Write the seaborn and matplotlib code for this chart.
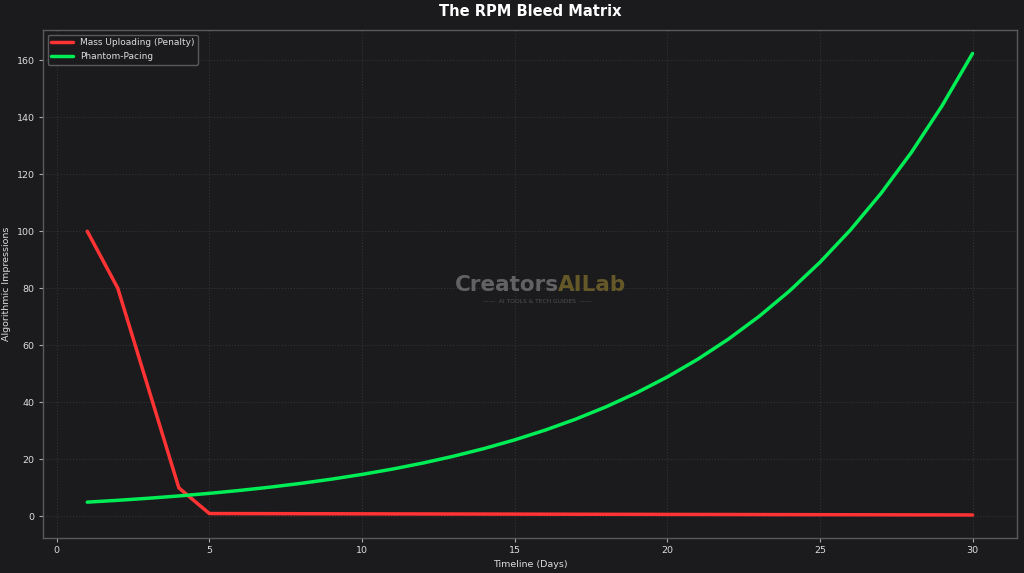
import numpy as np
import pandas as pd
import seaborn as sns
import matplotlib
matplotlib.use("Agg")
import matplotlib.pyplot as plt

days = list(range(1, 31))
mass_uploading = [100, 80, 45, 10, 1.0, 0.98, 0.96, 0.94, 0.92, 0.90, 0.88, 0.86, 0.84, 0.82, 0.80,
                  0.78, 0.76, 0.74, 0.72, 0.70, 0.68, 0.66, 0.64, 0.62, 0.60, 0.58, 0.56, 0.54, 0.52, 0.50]
phantom_pacing = [5.0, 5.64, 6.36, 7.17, 8.08, 9.11, 10.27, 11.58, 13.06, 14.72, 16.60, 18.72, 21.11,
                  23.80, 26.83, 30.26, 34.11, 38.46, 43.37, 48.90, 55.13, 62.16, 70.09, 79.02, 89.10,
                  100.46, 113.27, 127.71, 143.99, 162.35]
series_names = ["Mass Uploading (Penalty)", "Phantom-Pacing"]

df = pd.DataFrame({
    "day": days * 2,
    "value": mass_uploading + phantom_pacing,
    "series": [series_names[0]] * len(days) + [series_names[1]] * len(days),
})

sns.set_theme(style="darkgrid")
plt.rcParams['font.family'] = ['DejaVu Sans']

bg = "#1b1b1d"
fig = plt.figure(figsize=(10.24, 5.73), dpi=100, facecolor=bg)
ax = fig.add_axes([0.042, 0.061, 0.951, 0.886])
ax.set_facecolor(bg)

sns.lineplot(data=df, x="day", y="value", hue="series",
             palette={series_names[0]: "#ff3333", series_names[1]: "#00ee55"},
             linewidth=2.5, ax=ax)

ax.grid(True, color="#333336", linestyle=":", linewidth=0.8)
for s in ax.spines.values():
    s.set_visible(True)
    s.set_color("#5a5a5e")
    s.set_linewidth(1.0)
ax.tick_params(colors="#dddddd", labelsize=6.8, length=3, width=0.8, direction="out", pad=3)
ax.tick_params(axis="both", which="both", bottom=True, left=True, color="#aaaaaa")
ax.set_xticks([0, 5, 10, 15, 20, 25, 30])
ax.set_yticks([0, 20, 40, 60, 80, 100, 120, 140, 160])
ax.set_xlabel("Timeline (Days)", color="#dddddd", fontsize=6.8, labelpad=3)
ax.set_ylabel("Algorithmic Impressions", color="#dddddd", fontsize=6.8, labelpad=4)
ax.set_title("The RPM Bleed Matrix", color="white", fontsize=10.5, fontweight="bold", pad=10)

leg = ax.legend(loc="upper left", fontsize=6.5, frameon=True, facecolor=bg,
                edgecolor="#5a5a5e", labelcolor="#dddddd", handlelength=2.4)
leg.get_frame().set_alpha(1.0)
for line in leg.get_lines():
    line.set_linewidth(2.5)

# watermark
fig.text(0.444, 0.503, "Creators", color="#6a6a6e", fontsize=15.5, fontweight="bold",
         ha="left", va="center", alpha=0.9)
fig.text(0.545, 0.503, "AILab", color="#6e5f2a", fontsize=15.5, fontweight="bold",
         ha="left", va="center", alpha=0.9)
fig.text(0.525, 0.474, "——  AI TOOLS & TECH GUIDES  ——", color="#505055", fontsize=4.3,
         ha="center", va="center")

fig.savefig("out.png", dpi=100, facecolor=bg)
